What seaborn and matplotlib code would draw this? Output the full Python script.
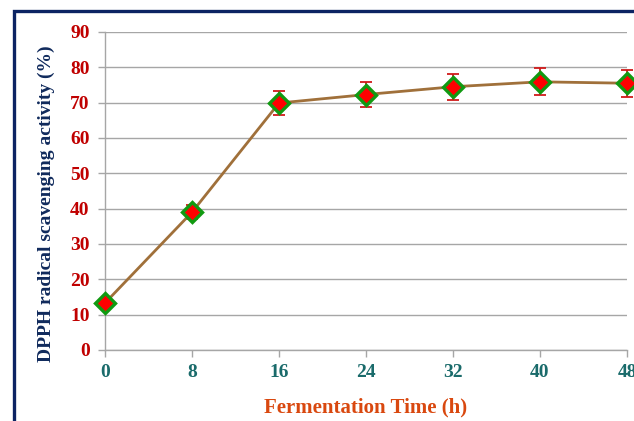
import matplotlib
matplotlib.use("Agg")
import matplotlib.pyplot as plt
import matplotlib.patches as mpatches
import seaborn as sns
import pandas as pd

time_h = [0, 8, 16, 24, 32, 40, 48]
activity = [13.3, 39.0, 69.9, 72.3, 74.5, 75.9, 75.5]
sd = [0.6, 2.0, 3.5, 3.6, 3.7, 3.8, 3.8]
x_ticks = [0, 8, 16, 24, 32, 40, 48]
y_ticks = [0, 10, 20, 30, 40, 50, 60, 70, 80, 90]

sns.set_theme(style="white")
plt.rcParams['font.family'] = ['Liberation Serif', 'DejaVu Serif']

df = pd.DataFrame({"time": time_h, "activity": activity, "sd": sd})

fig = plt.figure(figsize=(6.34, 4.21), dpi=100)
ax = fig.add_axes([105/634, 71/421, (627-105)/634, (350-32)/421])

# outer border
border = mpatches.Rectangle((14/634, -0.05), 1.0, (421-11)/421 + 0.05,
                            transform=fig.transFigure, fill=False,
                            edgecolor="#0c2463", linewidth=2.4, zorder=0)
fig.add_artist(border)

ax.errorbar(df["time"], df["activity"], yerr=df["sd"], fmt="none",
            ecolor="#d01a1a", elinewidth=1.3, capsize=4, capthick=1.3,
            zorder=2, clip_on=False)
sns.lineplot(data=df, x="time", y="activity", ax=ax, color="#a0703a",
             linewidth=2.0, marker="D", markersize=10,
             markerfacecolor="#ff0000", markeredgecolor="#119a11",
             markeredgewidth=2.4, zorder=3, clip_on=False)

ax.set_xlim(0, 48)
ax.set_ylim(0, 90)
ax.set_xticks(x_ticks)
ax.set_yticks(y_ticks)
ax.grid(axis="y", color="#a6a6a6", linewidth=1.0)
ax.set_axisbelow(True)

for s in ["top", "right"]:
    ax.spines[s].set_visible(False)
for s in ["left", "bottom"]:
    ax.spines[s].set_color("#a6a6a6")
    ax.spines[s].set_linewidth(1.0)

ax.tick_params(axis="x", direction="out", length=5, color="#a6a6a6", width=1.0,
               labelcolor="#1a6b6b", labelsize=14, pad=5)
ax.tick_params(axis="y", direction="out", length=5, color="#a6a6a6", width=1.0,
               labelcolor="#c00000", labelsize=14, pad=6)
ax.tick_params(bottom=True, left=True)
for lab in ax.get_xticklabels() + ax.get_yticklabels():
    lab.set_fontweight("bold")

ax.set_xlabel("Fermentation Time (h)", fontsize=15, fontweight="bold",
              color="#d9480f", labelpad=12)
ax.set_ylabel("DPPH radical scavenging activity (%)", fontsize=14,
              fontweight="bold", color="#102a5c")
ax.yaxis.set_label_coords(-0.096, 0.459)

fig.savefig("out.png", dpi=100)
